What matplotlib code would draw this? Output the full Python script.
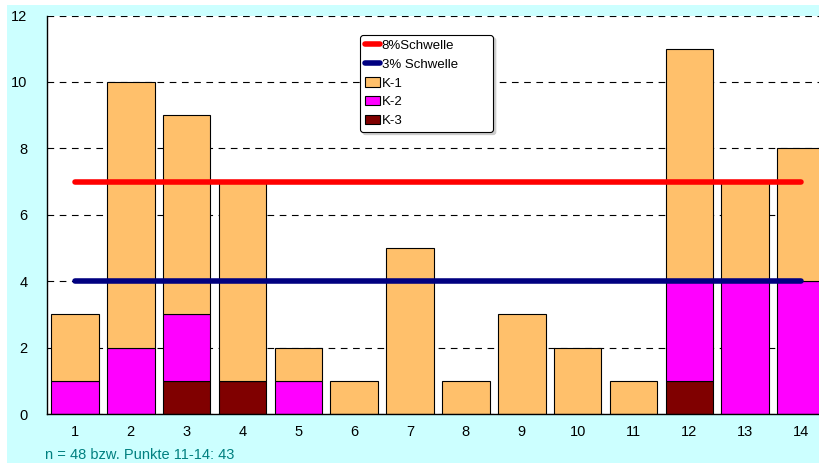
import matplotlib
matplotlib.use("Agg")
import matplotlib.pyplot as plt
from matplotlib.patches import Rectangle
import numpy as np

points = list(range(1, 15))
k3 = [0, 0, 1, 1, 0, 0, 0, 0, 0, 0, 0, 1, 0, 0]
k2 = [1, 2, 2, 0, 1, 0, 0, 0, 0, 0, 0, 3, 4, 4]
k1 = [2, 8, 6, 6, 1, 1, 5, 1, 3, 2, 1, 7, 3, 4]
schwelle_8 = 7
schwelle_3 = 4
note = "n = 48 bzw. Punkte 11-14: 43"

plt.rcParams["font.family"] = ["Liberation Sans", "DejaVu Sans"]

fig = plt.figure(figsize=(8.19, 4.63), dpi=100)
fig.patch.set_facecolor("white")
fig.patches.append(Rectangle((7 / 819, 0), 1, 1 - 5 / 463, transform=fig.transFigure,
                             facecolor="#CCFFFF", edgecolor="none", zorder=-10))

ax = fig.add_axes([47 / 819, 1 - 414 / 463, 782 / 819, (414 - 15.5) / 463])
ax.set_facecolor("white")

x = np.array(points)
k3 = np.array(k3)
k2 = np.array(k2)
k1 = np.array(k1)
w = 0.85
ax.bar(x, k3, w, color="#800000", edgecolor="black", linewidth=0.8, label="K-3", zorder=2)
ax.bar(x, k2, w, bottom=k3, color="#FF00FF", edgecolor="black", linewidth=0.8,
       label="K-2", zorder=2)
ax.bar(x, k1, w, bottom=k3 + k2, color="#FFC06B", edgecolor="black", linewidth=0.8,
       label="K-1", zorder=2)

ax.plot([points[0], points[-1]], [schwelle_8] * 2, color="#FF0000", lw=4,
        solid_capstyle="round", label="8%Schwelle", zorder=3)
ax.plot([points[0], points[-1]], [schwelle_3] * 2, color="#000080", lw=4,
        solid_capstyle="round", label="3% Schwelle", zorder=3)

ax.set_xlim(0.5, 14.5)
ax.set_ylim(0, 12)
ax.set_xticks(points)
ax.set_yticks(range(0, 13, 2))
ax.tick_params(axis="both", length=0, labelsize=10.5, pad=8)
ax.tick_params(axis="y", pad=14)
ax.grid(True, axis="y", color="black", linestyle=(0, (6, 5)), linewidth=0.8, zorder=0)
ax.set_axisbelow(True)
for side in ("top", "right"):
    ax.spines[side].set_visible(False)
ax.spines["left"].set_linewidth(1.0)
ax.spines["bottom"].set_linewidth(1.0)

handles, labels = ax.get_legend_handles_labels()
order = ["8%Schwelle", "3% Schwelle", "K-1", "K-2", "K-3"]
hs = [handles[labels.index(o)] for o in order]
leg = ax.legend(hs, order, loc="upper left", mode="expand",
                bbox_to_anchor=(313 / 782, 1 - 19.5 / 398.5, 133 / 782, 0),
                fontsize=9.5, handlelength=1.2, handletextpad=0.1, labelspacing=0.5,
                borderpad=0.35, fancybox=True, shadow={"color": "#cccccc", "alpha": 1},
                framealpha=1, edgecolor="black", borderaxespad=0)
leg.get_frame().set_linewidth(0.8)
leg.set_zorder(5)

fig.text(45 / 819, 1 - 455 / 463, note, color="#008080", fontsize=10.5, va="center")

fig.savefig("out.png", dpi=100, facecolor=fig.get_facecolor())
